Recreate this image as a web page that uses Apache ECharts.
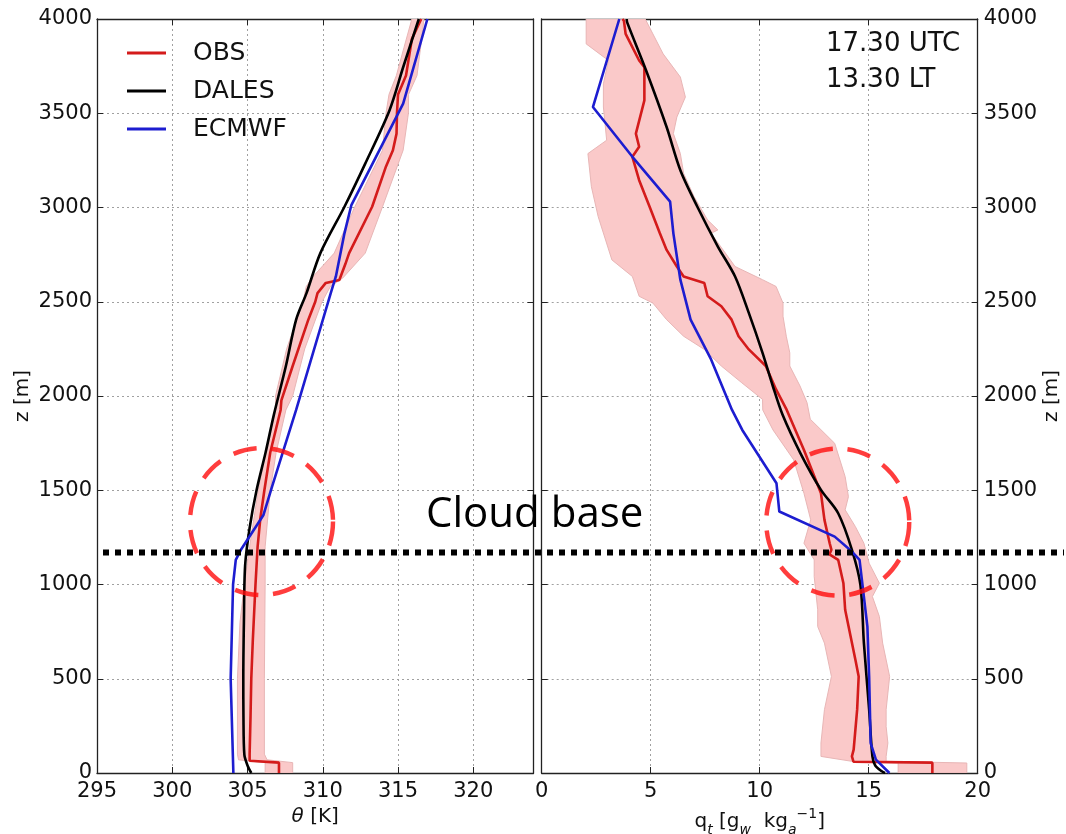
<!DOCTYPE html>
<html><head><meta charset="utf-8">
<script src="https://cdn.jsdelivr.net/npm/echarts@6/dist/echarts.min.js"></script>
<style>html,body{margin:0;padding:0;background:#fff}#c{width:1066px;height:834px}</style>
</head><body><div id="c"></div>
<script>
// ---------- Left panel: potential temperature theta [K] vs z [m] ----------
const thetaTicks = [295, 300, 305, 310, 315, 320];
const zTicks = [0, 500, 1000, 1500, 2000, 2500, 3000, 3500, 4000];

const obsThetaZ = [0, 55, 65, 100, 300, 500, 700, 1000, 1200, 1350, 1500, 1700, 1926, 1977, 2159, 2405, 2500, 2546, 2600, 2615, 2700, 2758, 3004, 3218, 3304, 3392, 3500, 3600, 3700, 3894, 4000];
const obsTheta  = [307.09, 307.09, 305.14, 305.14, 305.2, 305.25, 305.35, 305.53, 305.67, 305.85, 306.12, 306.51, 307.2, 307.25, 308.0, 309.04, 309.5, 309.65, 310.2, 311.1, 311.5, 311.75, 313.28, 314.2, 314.66, 314.9, 314.93, 315.0, 315.53, 315.92, 316.54];

const obsThetaBandZ = [0, 55, 70, 100, 500, 800, 1000, 1200, 1500, 1700, 1926, 2000, 2250, 2500, 2580, 2626, 2758, 3004, 3304, 3500, 3600, 3700, 3850, 4000];
const obsThetaLo    = [306.17, 306.17, 304.4, 304.33, 304.33, 304.5, 304.79, 305.14, 305.71, 306.2, 306.86, 306.86, 307.6, 308.69, 308.9, 309.27, 310.76, 312.13, 313.97, 314.2, 314.4, 314.89, 315.4, 315.92];
const obsThetaHi    = [308.0, 308.0, 306.3, 306.12, 306.12, 306.15, 306.17, 306.17, 306.51, 306.9, 307.55, 308.0, 308.8, 309.95, 310.5, 311.33, 312.82, 313.97, 315.34, 315.69, 315.7, 316.26, 316.5, 316.72];

const dalesThetaZ = [0, 40, 97, 300, 500, 800, 1100, 1300, 1500, 1700, 1900, 2159, 2405, 2546, 2758, 3004, 3233, 3515, 3744, 4000];
const dalesTheta  = [305.25, 305.0, 304.79, 304.73, 304.72, 304.76, 304.84, 305.14, 305.6, 306.2, 306.75, 307.55, 308.23, 308.92, 309.84, 311.44, 312.82, 314.43, 315.34, 316.38];

const ecmwfThetaZ = [0, 500, 1000, 1131, 1184, 1369, 1519, 1926, 2546, 2634, 2863, 3013, 3551, 4000];
const ecmwfTheta  = [304.06, 303.88, 304.04, 304.22, 304.56, 306.06, 306.63, 308.23, 310.53, 310.87, 311.44, 311.9, 315.34, 316.95];

// ---------- Right panel: total water q_t [g/kg] vs z [m] ----------
const qTicks = [0, 5, 10, 15, 20];

const obsQZ = [0, 55, 60, 88, 124, 336, 512, 601, 866, 1007, 1131, 1160, 1184, 1219, 1343, 1484, 1714, 1926, 2035, 2159, 2247, 2317, 2405, 2476, 2529, 2599, 2634, 2687, 2775, 2863, 3004, 3145, 3269, 3322, 3392, 3568, 3744, 3780, 3921, 3991, 4000];
const obsQ  = [17.92, 17.92, 14.3, 14.23, 14.31, 14.47, 14.54, 14.39, 13.92, 13.84, 13.6, 13.2, 13.29, 13.21, 12.97, 12.81, 12.03, 11.24, 10.75, 10.28, 9.5, 9.03, 8.71, 8.24, 7.61, 7.46, 6.51, 6.2, 5.73, 5.42, 4.95, 4.47, 4.16, 4.47, 4.32, 4.71, 4.71, 4.47, 3.85, 3.77, 3.7];

const obsQLoZ = [0, 53, 62, 88, 159, 336, 512, 689, 777, 866, 1042, 1131, 1219, 1343, 1484, 1661, 1820, 1926, 1982, 2070, 2159, 2247, 2317, 2405, 2493, 2529, 2634, 2722, 2952, 3110, 3286, 3357, 3533, 3656, 3780, 3868, 3991, 4000];
const obsQLo  = [16.35, 16.35, 14.23, 12.81, 12.81, 12.97, 13.29, 12.97, 12.66, 12.66, 12.5, 12.5, 12.03, 12.34, 12.03, 11.56, 10.61, 10.14, 10.13, 9.18, 8.24, 7.46, 6.51, 5.73, 5.1, 4.47, 4.16, 3.22, 2.59, 2.28, 2.12, 2.98, 2.83, 2.83, 3.06, 2.04, 2.04, 2.04];
const obsQHiZ = [0, 53, 62, 88, 159, 247, 336, 512, 689, 830, 936, 1007, 1113, 1219, 1307, 1396, 1466, 1572, 1749, 1877, 1965, 2053, 2159, 2229, 2317, 2423, 2493, 2581, 2617, 2687, 2863, 2881, 2934, 3057, 3181, 3286, 3392, 3480, 3586, 3692, 3815, 3921, 3991, 4000];
const obsQHi  = [19.5, 19.5, 15.8, 15.8, 15.88, 15.8, 15.8, 15.96, 15.64, 15.49, 15.17, 15.49, 15.02, 14.78, 14.39, 13.92, 14.07, 13.92, 13.44, 12.32, 12.17, 11.85, 11.38, 11.38, 11.22, 11.07, 11.07, 10.75, 10.13, 8.87, 7.77, 8.08, 7.61, 6.99, 6.51, 6.36, 6.04, 6.2, 6.59, 6.36, 5.57, 5.1, 4.79, 4.75];

const dalesQZ = [0, 9, 40, 88, 336, 689, 998, 1184, 1378, 1502, 1696, 1900, 2053, 2229, 2441, 2634, 2793, 3004, 3198, 3427, 3727, 3982, 4000];
const dalesQ  = [15.75, 15.6, 15.3, 15.17, 15.02, 14.78, 14.62, 14.23, 13.6, 12.81, 11.87, 11.05, 10.6, 10.13, 9.5, 8.87, 8.08, 7.14, 6.36, 5.73, 4.79, 3.92, 3.9];

const ecmwfQZ = [0, 71, 159, 512, 777, 1131, 1175, 1254, 1387, 1537, 1820, 1926, 2194, 2405, 2617, 2863, 3031, 3269, 3533, 4000];
const ecmwfQ  = [15.95, 15.33, 15.09, 15.02, 14.94, 14.58, 14.23, 13.44, 10.9, 10.77, 9.2, 8.73, 7.77, 6.83, 6.36, 6.04, 5.89, 4.16, 2.35, 3.56];

// ---------- Annotations ----------
const cloudBaseZ = 1170;
const circleLeft = [305.93, 1334];   // [theta, z]
const circleRight = [13.58, 1331];   // [q, z]
const seriesNames = ['OBS', 'DALES', 'ECMWF'];
const timeText = ['17.30 UTC', '13.30 LT'];
const cloudText = 'Cloud base';

// ---------- Build chart ----------
const FONT = '"DejaVu Sans", sans-serif';
const RED = '#d41b1b', BLUE = '#1d1dd0', BLACK = '#000';
const pairs = (v, z) => v.map((x, i) => [x, z[i]]);

function bandSeries(xi, yi, loZ, lo, hiZ, hi) {
  return {
    type: 'custom', xAxisIndex: xi, yAxisIndex: yi, silent: true, z: 1, clip: true,
    data: [[lo[0], loZ[0]]],
    renderItem: function (params, api) {
      const pts = [];
      for (let i = 0; i < lo.length; i++) pts.push(api.coord([lo[i], loZ[i]]));
      for (let i = hi.length - 1; i >= 0; i--) pts.push(api.coord([hi[i], hiZ[i]]));
      return { type: 'polygon', shape: { points: pts },
        style: { fill: '#fac9c9', stroke: '#e8b6b6', lineWidth: 1 } };
    }
  };
}
function lineSeries(name, color, xi, yi, data, z, smooth) {
  return { name, type: 'line', xAxisIndex: xi, yAxisIndex: yi, data, showSymbol: false,
    symbol: 'none', smooth: smooth || false, lineStyle: { color, width: 2.6 }, itemStyle: { color }, z, silent: true, animation: false };
}
function circleSeries(xi, yi, pt) {
  return { type: 'scatter', xAxisIndex: xi, yAxisIndex: yi, data: [pt], symbol: 'circle', symbolSize: [143, 147],
    itemStyle: { color: 'rgba(0,0,0,0)', borderColor: '#ff0d0d', borderWidth: 4.5, borderType: [24, 15] },
    z: 20, silent: true };
}
const tickStyle = { inside: true, length: 6, lineStyle: { color: '#222', width: 1 } };
const axisLineStyle = { show: true, onZero: false, lineStyle: { color: '#222', width: 1.3 } };
const splitStyle = { show: true, lineStyle: { color: '#a0a0a0', type: [2, 3], width: 1 } };
const labelStyle = { fontFamily: FONT, fontSize: 21, color: '#111' };
const plain = v => String(v);

const gridTop = 19, gridH = 754;
const option = {
  animation: false,
  backgroundColor: '#fff',
  grid: [
    { left: 97, top: gridTop, width: 436.5, height: gridH, containLabel: false, outerBoundsMode: 'none' },
    { left: 541.7, top: gridTop, width: 436, height: gridH, containLabel: false, outerBoundsMode: 'none' }
  ],
  legend: {
    data: seriesNames, orient: 'vertical', left: 127, top: 40, padding: 0, icon: 'rect',
    itemWidth: 39, itemHeight: 3, itemGap: 12, selectedMode: false,
    textStyle: { fontFamily: FONT, fontSize: 25, color: '#111', lineHeight: 26, padding: [0, 0, 0, 22] }
  },
  xAxis: [
    { gridIndex: 0, type: 'value', min: 295, max: 324, interval: 5, position: 'bottom',
      axisLine: axisLineStyle, axisTick: tickStyle, splitLine: splitStyle,
      axisLabel: Object.assign({ margin: 8, showMaxLabel: false, formatter: plain }, labelStyle),
      name: '{it|θ} [K]', nameLocation: 'middle', nameGap: 33,
      nameTextStyle: { fontFamily: FONT, fontSize: 20, color: '#111', rich: { it: { fontStyle: 'italic', fontFamily: FONT, fontSize: 20 } } } },
    { gridIndex: 0, type: 'value', min: 295, max: 324, interval: 5, position: 'top',
      axisLine: axisLineStyle, axisTick: tickStyle, splitLine: { show: false }, axisLabel: { show: false } },
    { gridIndex: 1, type: 'value', min: 0, max: 20, interval: 5, position: 'bottom',
      axisLine: axisLineStyle, axisTick: tickStyle, splitLine: splitStyle,
      axisLabel: Object.assign({ margin: 8, formatter: plain }, labelStyle),
      name: 'q{sub|t} [g{sub|w}  kg{sub|a}{sup|−1}]', nameLocation: 'middle', nameGap: 28,
      nameTextStyle: { fontFamily: FONT, fontSize: 20, color: '#111', lineHeight: 30,
        rich: { sub: { fontFamily: FONT, fontSize: 14, fontStyle: 'italic', lineHeight: 14, verticalAlign: 'bottom' },
                sup: { fontFamily: FONT, fontSize: 14, lineHeight: 14, verticalAlign: 'top' } } } },
    { gridIndex: 1, type: 'value', min: 0, max: 20, interval: 5, position: 'top',
      axisLine: axisLineStyle, axisTick: tickStyle, splitLine: { show: false }, axisLabel: { show: false } }
  ],
  yAxis: [
    { gridIndex: 0, type: 'value', min: 0, max: 4000, interval: 500, position: 'left',
      axisLine: axisLineStyle, axisTick: tickStyle, splitLine: splitStyle,
      axisLabel: Object.assign({ margin: 5, formatter: plain }, labelStyle),
      name: 'z [m]', nameLocation: 'middle', nameGap: 64, nameRotate: 90,
      nameTextStyle: { fontFamily: FONT, fontSize: 20, color: '#111' } },
    { gridIndex: 0, type: 'value', min: 0, max: 4000, interval: 500, position: 'right',
      axisLine: axisLineStyle, axisTick: tickStyle, splitLine: { show: false }, axisLabel: { show: false } },
    { gridIndex: 1, type: 'value', min: 0, max: 4000, interval: 500, position: 'right',
      axisLine: axisLineStyle, axisTick: tickStyle, splitLine: splitStyle,
      axisLabel: Object.assign({ margin: 6, formatter: plain }, labelStyle),
      name: 'z [m]', nameLocation: 'middle', nameGap: 64, nameRotate: 90,
      nameTextStyle: { fontFamily: FONT, fontSize: 20, color: '#111' } },
    { gridIndex: 1, type: 'value', min: 0, max: 4000, interval: 500, position: 'left',
      axisLine: axisLineStyle, axisTick: tickStyle, splitLine: { show: false }, axisLabel: { show: false } }
  ],
  series: [
    bandSeries(0, 0, obsThetaBandZ, obsThetaLo, obsThetaBandZ, obsThetaHi),
    lineSeries('OBS', RED, 0, 0, pairs(obsTheta, obsThetaZ), 5),
    lineSeries('DALES', BLACK, 0, 0, pairs(dalesTheta, dalesThetaZ), 6, 0.3),
    lineSeries('ECMWF', BLUE, 0, 0, pairs(ecmwfTheta, ecmwfThetaZ), 7),
    bandSeries(2, 2, obsQLoZ, obsQLo, obsQHiZ, obsQHi),
    lineSeries('OBS', RED, 2, 2, pairs(obsQ, obsQZ), 5),
    lineSeries('DALES', BLACK, 2, 2, pairs(dalesQ, dalesQZ), 6, 0.3),
    lineSeries('ECMWF', BLUE, 2, 2, pairs(ecmwfQ, ecmwfQZ), 7),
    circleSeries(0, 0, circleLeft),
    circleSeries(2, 2, circleRight)
  ]
};

const chart = echarts.init(document.getElementById('c'), null, { renderer: 'canvas' });
chart.setOption(option);
const yCloud = chart.convertToPixel({ yAxisIndex: 0 }, cloudBaseZ);
chart.setOption({
  graphic: [
    { type: 'line', z: 100, silent: true,
      shape: { x1: 103, y1: yCloud, x2: 1064, y2: yCloud },
      style: { stroke: '#000', lineWidth: 6, lineDash: [6, 6] } },
    { type: 'text', z: 100, left: 426, top: 494, silent: true,
      style: { text: cloudText, font: '42px "Open Sans", sans-serif', fill: '#000' } },
    { type: 'text', z: 100, left: 826, top: 26, silent: true,
      style: { text: timeText.join('\n'), font: '26px "DejaVu Sans", sans-serif', lineHeight: 36, fill: '#111' } }
  ]
});
</script></body></html>
